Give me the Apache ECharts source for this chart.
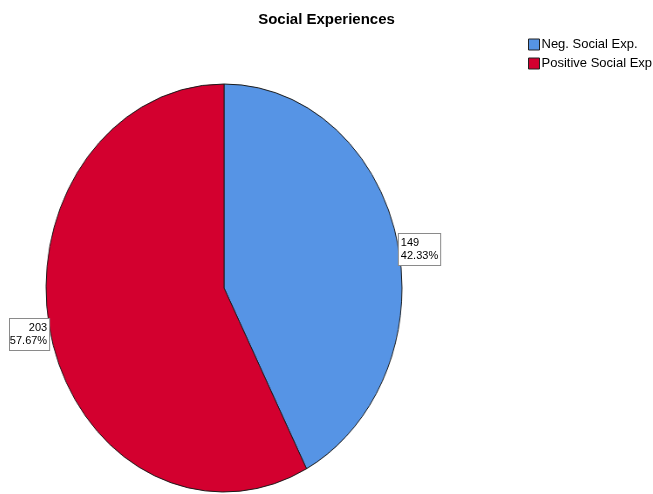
<!DOCTYPE html>
<html>
<head>
<meta charset="utf-8">
<script src="https://cdn.jsdelivr.net/npm/echarts@6/dist/echarts.min.js"></script>
<style>
  html, body { margin: 0; padding: 0; background: #fff; }
  #wrap { position: relative; width: 653px; height: 494px; overflow: hidden; }
  #pie-shape { position: absolute; left: 0; top: 0; width: 653px; height: 494px;
               transform: scaleX(0.8725); transform-origin: 224px 0; }
  #chart-main { position: absolute; left: 0; top: 0; width: 653px; height: 494px; }
</style>
</head>
<body>
<div id="wrap">
  <div id="pie-shape"></div>
  <div id="chart-main"></div>
</div>
<script>
var categories = ['Neg. Social Exp.', 'Positive Social Exp'];
var counts = [149, 203];
var colors = ['#5694e5', '#d3002f'];

// the elliptical pie itself (stretched with css)
var shapeChart = echarts.init(document.getElementById('pie-shape'));
shapeChart.setOption({
    animation: false,
    series: [{
        type: 'pie',
        center: [224, 288],
        radius: 204,
        startAngle: 90,
        clockwise: true,
        silent: true,
        label: { show: false },
        labelLine: { show: false },
        itemStyle: { borderColor: '#1a1a1a', borderWidth: 1 },
        data: categories.map(function (name, i) {
            return { name: name, value: counts[i], itemStyle: { color: colors[i] } };
        })
    }]
});

// title, legend and the value labels (slices here are invisible)
var mainChart = echarts.init(document.getElementById('chart-main'));
mainChart.setOption({
    animation: false,
    title: {
        text: 'Social Experiences',
        left: 'center',
        top: 7,
        textStyle: { fontFamily: 'Liberation Sans, Arial', fontSize: 15, fontWeight: 'bold', color: '#000' }
    },
    legend: {
        orient: 'vertical',
        left: 523,
        top: 33,
        itemWidth: 11,
        itemHeight: 11,
        itemGap: 6,
        icon: 'rect',
        selectedMode: false,
        textStyle: { fontFamily: 'Liberation Sans, Arial', fontSize: 13, color: '#000', padding: [0, 0, 0, -3] },
        data: categories.map(function (name, i) {
            return { name: name, itemStyle: { color: colors[i], borderColor: '#222', borderWidth: 1 } };
        })
    },
    series: [{
        type: 'pie',
        center: [224, 292],
        radius: 178,
        startAngle: 90,
        clockwise: true,
        silent: true,
        labelLine: { show: false, length: 0, length2: 0 },
        label: {
            show: true,
            position: 'outside',
            distanceToLabelLine: 2,
            overflow: 'none',
            formatter: '{c}\n{d}%',
            fontFamily: 'Liberation Sans, Arial',
            fontSize: 11,
            lineHeight: 13,
            color: '#000',
            backgroundColor: '#fff',
            borderColor: '#8a8a8a',
            borderWidth: 1,
            padding: [3, 2, 2, 2]
        },
        data: categories.map(function (name, i) {
            return { name: name, value: counts[i], itemStyle: { color: 'rgba(0,0,0,0)' } };
        })
    }]
});
</script>
</body>
</html>
